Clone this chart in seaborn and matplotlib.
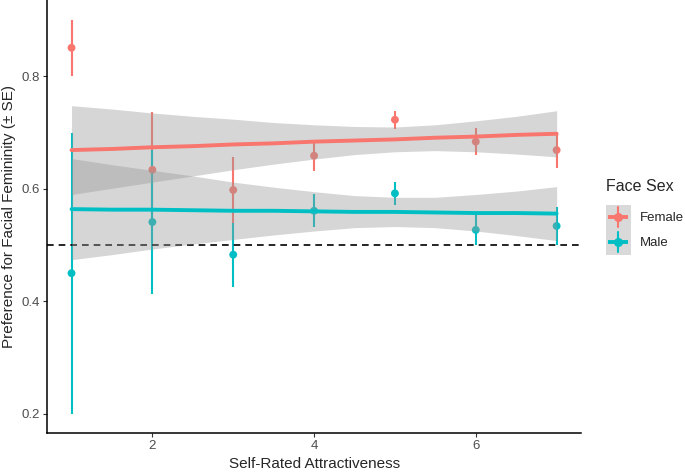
import numpy as np
import pandas as pd
import matplotlib
matplotlib.use('Agg')
import matplotlib.pyplot as plt
import seaborn as sns
from matplotlib.lines import Line2D
from matplotlib.patches import Rectangle

# data

attract = [1, 2, 3, 4, 5, 6, 7]
female_mean = [0.851, 0.634, 0.598, 0.659, 0.723, 0.684, 0.669]
female_se = [0.050, 0.103, 0.059, 0.027, 0.016, 0.024, 0.032]
male_mean = [0.450, 0.541, 0.483, 0.561, 0.592, 0.527, 0.534]
male_se = [0.250, 0.128, 0.057, 0.029, 0.020, 0.027, 0.034]

# fitted lines and their confidence bands
fit_x = [1, 1.5, 2, 2.5, 3, 3.5, 4, 4.5, 5, 5.5, 6, 6.5, 7]
female_fit = [0.669, 0.671, 0.674, 0.676, 0.679, 0.681, 0.684, 0.686, 0.688, 0.691, 0.693, 0.696, 0.698]
female_lo = [0.590, 0.601, 0.612, 0.623, 0.634, 0.644, 0.653, 0.661, 0.666, 0.668, 0.666, 0.662, 0.657]
female_hi = [0.748, 0.742, 0.735, 0.729, 0.724, 0.718, 0.714, 0.711, 0.710, 0.714, 0.721, 0.729, 0.739]
male_fit = [0.564, 0.563, 0.563, 0.562, 0.561, 0.561, 0.560, 0.559, 0.559, 0.558, 0.557, 0.557, 0.556]
male_lo = [0.474, 0.483, 0.493, 0.502, 0.510, 0.518, 0.525, 0.531, 0.533, 0.531, 0.525, 0.517, 0.508]
male_hi = [0.654, 0.643, 0.633, 0.623, 0.612, 0.603, 0.595, 0.588, 0.585, 0.585, 0.590, 0.596, 0.604]

groups = ['Female', 'Male']
colors = {'Female': '#F8766D', 'Male': '#00BFC4'}

pts = pd.DataFrame({
    'x': attract * 2,
    'mean': female_mean + male_mean,
    'se': female_se + male_se,
    'sex': ['Female'] * 7 + ['Male'] * 7,
})
fits = pd.DataFrame({
    'x': fit_x * 2,
    'fit': female_fit + male_fit,
    'lo': female_lo + male_lo,
    'hi': female_hi + male_hi,
    'sex': ['Female'] * len(fit_x) + ['Male'] * len(fit_x),
})

sns.set_style('white')
plt.rcParams['font.family'] = ['Liberation Sans', 'DejaVu Sans']

fig = plt.figure(figsize=(6.85, 4.72), dpi=100)
ax = fig.add_axes([0.069, 0.083, 0.779, 0.917])

# error bars + points
for g in groups:
    d = pts[pts['sex'] == g]
    ax.errorbar(d['x'], d['mean'], yerr=d['se'], fmt='none', ecolor=colors[g],
                elinewidth=1.5, zorder=2)
sns.scatterplot(data=pts, x='x', y='mean', hue='sex', palette=colors, s=32,
                edgecolor='none', legend=False, ax=ax, zorder=3)

# reference line
ax.axhline(0.5, color='black', linestyle=(0, (4, 3)), linewidth=1.2, zorder=3)

# bands and fit lines
for g in groups:
    d = fits[fits['sex'] == g]
    ax.fill_between(d['x'], d['lo'], d['hi'], color='#999999', alpha=0.4,
                    linewidth=0, zorder=4)
sns.lineplot(data=fits, x='x', y='fit', hue='sex', palette=colors, linewidth=2.8,
             legend=False, ax=ax, zorder=5)

ax.set_xlim(0.70, 7.30)
ax.set_ylim(0.166, 0.936)
ax.set_xticks([2, 4, 6])
ax.set_yticks([0.2, 0.4, 0.6, 0.8])
ax.set_xticklabels(['2', '4', '6'])
ax.set_yticklabels(['0.2', '0.4', '0.6', '0.8'])
ax.tick_params(axis='both', which='both', length=3, width=0.8, color='#333333',
               labelcolor='#4D4D4D', labelsize=9.5, direction='out', pad=2)
ax.tick_params(axis='x', bottom=True)
ax.tick_params(axis='y', left=True)
ax.set_xlabel('Self-Rated Attractiveness', fontsize=11, labelpad=4)
ax.set_ylabel('Preference for Facial Femininity (± SE)', fontsize=11, labelpad=4)
for s in ['top', 'right']:
    ax.spines[s].set_visible(False)
for s in ['left', 'bottom']:
    ax.spines[s].set_color('black')
    ax.spines[s].set_linewidth(1.1)


# legend key: grey box + line + error bar + point (ggplot style)
class KeyHandler:
    def legend_artist(self, legend, orig_handle, fontsize, handlebox):
        c = orig_handle.get_color()
        x0, y0 = -handlebox.xdescent, -handlebox.ydescent
        w, h = handlebox.width, handlebox.height
        tr = handlebox.get_transform()
        rect = Rectangle((x0, y0), w, h, facecolor='#D9D9D9', edgecolor='none', transform=tr)
        hline = Line2D([x0 + 0.1 * w, x0 + 0.9 * w], [y0 + h / 2] * 2, color=c, lw=2.8,
                       solid_capstyle='butt', transform=tr)
        vline = Line2D([x0 + w / 2] * 2, [y0 + 0.1 * h, y0 + 0.9 * h], color=c, lw=1.5,
                       transform=tr)
        dot = Line2D([x0 + w / 2], [y0 + h / 2], color=c, marker='o', markersize=5.5,
                     linestyle='none', transform=tr)
        for a in (rect, hline, vline, dot):
            handlebox.add_artist(a)
        return rect


handles = [Line2D([], [], color=colors[g]) for g in groups]
leg = fig.legend(handles, groups, title='Face Sex', loc='center left',
                 bbox_to_anchor=(0.869, 0.541), frameon=False, fontsize=9.5,
                 title_fontsize=11.5, handler_map={Line2D: KeyHandler()},
                 handlelength=1.9, handleheight=2.54, handletextpad=0.7,
                 labelspacing=0.0, borderpad=0.3)
leg._legend_box.align = 'left'
leg._legend_box.sep = 8  # gap between title and keys

fig.savefig('out.png', dpi=100)
